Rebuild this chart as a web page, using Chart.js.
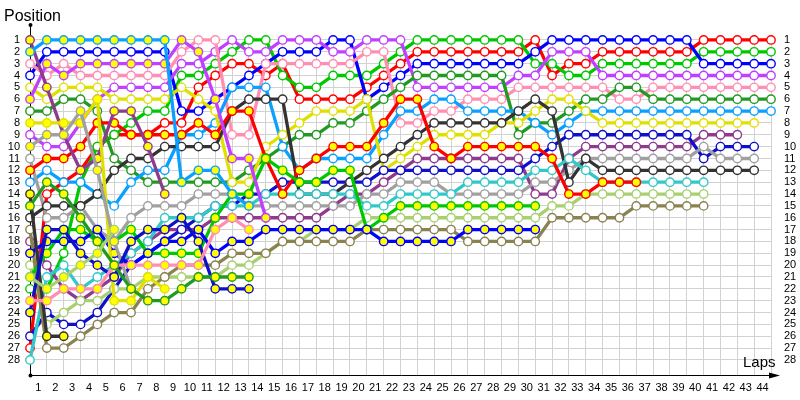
<!DOCTYPE html>
<html>
<head>
<meta charset="utf-8">
<script src="https://cdn.jsdelivr.net/npm/chart.js@4"></script>
<style>
  body { margin: 0; background: #fff; }
  canvas { display: block; }
</style>
</head>
<body>
<canvas id="chartVueltas" width="800" height="400"></canvas>
<script>
// vueltas 0..44 y posiciones 1..28
const laps = [0,1,2,3,4,5,6,7,8,9,10,11,12,13,14,15,16,17,18,19,20,21,22,23,24,25,26,27,28,29,30,31,32,33,34,35,36,37,38,39,40,41,42,43,44];
const positions = [1,2,3,4,5,6,7,8,9,10,11,12,13,14,15,16,17,18,19,20,21,22,23,24,25,26,27,28];

// posicion por vuelta (null = fuera de carrera)
const posRed      = [27,14,13,12,10,9,9,9,8,8,5, 4,3,3,4,3,6,6,6,6,5,4,3, 2,2,2,2,2,2,2,1,4,3,3,2,2,2,2,2,2,1,1,1,1,1];
const posLime     = [22,22,19,13,10,9,8,7,7,4,4, 3,2,1,1,4,5,5,4,4,4,3,2, 1,1,1,1,1,1,1,3,3,4,4,3,3,3,3,3,3,2,2,2,2,2];
const posBlue     = [4,2,2,2,2,2,2,2,2,7,7, 6,5,4,3,2,2,2,1,1,6,5,4, 3,3,3,3,3,3,3,2,1,1,1,1,1,1,1,1,1,3,3,3,3,3];
const posViolet   = [9,10,10,8,6,5,5,5,5,3,3, 2,1,2,2,1,1,1,2,2,1,1,1, 5,5,5,5,5,5,4,4,2,2,2,4,4,4,4,4,4,4,4,4,4,4];
const posPink     = [3,4,3,4,4,4,4,4,4,2,1, 1,9,9,3,3,3,3,3,3,2,2,8, 8,7,7,6,6,6,5,5,5,5,5,5,6,6,5,5,5,5,5,5,5,5];
const posForest   = [7,7,6,6,7,11,12,13,13,13,13, 13,13,12,11,10,9,9,8,8,7,6,5, 4,4,4,4,4,4,9,8,8,7,6,6,5,5,6,6,6,6,6,6,6,6];
const posSky      = [13,12,13,13,14,15,13,12,12,9,9, 8,5,5,5,10,12,11,11,11,11,9,7, 7,6,6,7,7,7,7,8,9,8,7,7,7,7,7,7,7,7,7,7,7,7];
const posYellow   = [5,6,5,5,5,6,6,6,6,5,6, 7,13,13,10,9,8,7,7,7,6,12,11, 10,9,9,9,9,8,8,7,6,6,7,8,8,8,8,8,8,8,8,8,8,null];
const posPlum     = [18,20,22,23,22,21,19,18,17,17,17, 16,16,16,16,16,16,16,15,14,14,13,12, 11,11,11,11,11,11,11,14,14,11,10,10,10,10,10,10,10,9,9,9,null,null];
const posNavy     = [26,24,25,25,24,22,20,19,18,17,16, 15,15,14,14,13,13,13,13,13,13,12,12, 12,12,12,12,12,12,12,11,10,9,9,9,9,9,9,9,9,11,10,10,10,null];
const posGray     = [11,16,16,15,17,18,16,15,15,15,14, 14,14,15,15,15,15,15,15,15,14,14,13, 13,13,14,14,14,14,14,13,13,12,11,11,11,11,11,11,11,10,11,11,11,null];
const posBlack    = [16,15,15,15,14,12,11,11,10,10,10, 10,7,6,6,6,14,14,14,13,12,11,10, 9,8,8,8,8,8,7,6,7,13,11,12,12,12,12,12,12,12,12,12,12,null];
const posCyan     = [28,21,20,22,21,20,19,18,16,16,16, 15,15,15,14,14,14,14,14,14,15,15,14, 14,14,14,13,13,13,13,12,12,11,12,13,13,13,13,13,13,13];
const posLight    = [20,25,24,23,23,22,22,21,21,21,21, 21,20,20,19,18,18,17,17,17,16,16,16, 16,16,16,16,16,16,16,16,15,15,14,14,14,14,14,14,14,14];
const posOlive    = [17,27,27,26,25,24,24,22,21,20,20, 20,19,19,19,18,18,18,18,18,17,17,17, 17,17,17,18,18,18,18,18,16,16,16,16,16,15,15,15,15,15];

const posRedB     = [12,11,11,10,8,8,9,9,9,9,8, 9,7,7,11,14,12,11,10,10,10,8,6, 6,10,11,10,10,10,10,10,11,14,14,13,13,13];
const posLimeB    = [21,19,17,17,18,18,17,19,19,19,19, 16,14,14,11,12,13,13,12,12,17,16,15, 15,15,15,15,15,15,15,15];
const posBlueB    = [19,18,18,18,17,19,20,19,18,18,17, 19,18,18,17,17,17,17,17,17,17,18,18, 18,18,18,17,17,17,17,17];
const posVioletB  = [6,3,4,3,3,3,3,3,3,1,2, 6,11,11,16];
const posPlumB    = [1,5,9,12,11,7,7,10,14];
const posSkyB     = [2,1,1,1,1,1,1,1,1,13,12, 12,14,15];
const posYellowB  = [8,8,8,8,6,23,23,21,22];
const posGrayB    = [10,9,9,7,12,18,22];
const posBlackB   = [14,26,26];
const posNavyB    = [24,17,17,19,20,21,18,17,17,16,18, 22,22,22];
const posPinkB    = [23,23,22,22,22,20,20,20,20,20,20, 17,16,17];
const posForestB  = [15,13,14,16,18,20,22,23,23,22,21, 21,21,21];
const posLightB   = [21,22,21,20,19,17];

const series = [
  { data: posLightB,  color: "#a8d070", fill: "#ffff00" },
  { data: posForestB, color: "#229922", fill: "#ffff00" },
  { data: posPinkB,   color: "#ff8fb2", fill: "#ffff00" },
  { data: posNavyB,   color: "#1010c8", fill: "#ffff00" },
  { data: posBlackB,  color: "#333333", fill: "#ffff00" },
  { data: posGrayB,   color: "#a0a0a0", fill: "#ffff00" },
  { data: posYellowB, color: "#e0e000", fill: "#ffff00" },
  { data: posSkyB,    color: "#0aa0ff", fill: "#ffff00" },
  { data: posPlumB,   color: "#8e3a8e", fill: "#ffff00" },
  { data: posVioletB, color: "#c040ff", fill: "#ffff00" },
  { data: posBlueB,   color: "#0000ff", fill: "#ffff00" },
  { data: posLimeB,   color: "#00c800", fill: "#ffff00" },
  { data: posRedB,    color: "#ff0000", fill: "#ffff00" },
  { data: posOlive,   color: "#8a8250", fill: "#ffffff" },
  { data: posLight,   color: "#a8d070", fill: "#ffffff" },
  { data: posCyan,    color: "#33c8c8", fill: "#ffffff" },
  { data: posBlack,   color: "#333333", fill: "#ffffff" },
  { data: posGray,    color: "#a0a0a0", fill: "#ffffff" },
  { data: posNavy,    color: "#1010c8", fill: "#ffffff" },
  { data: posPlum,    color: "#8e3a8e", fill: "#ffffff" },
  { data: posYellow,  color: "#e0e000", fill: "#ffffff" },
  { data: posSky,     color: "#0aa0ff", fill: "#ffffff" },
  { data: posForest,  color: "#229922", fill: "#ffffff" },
  { data: posPink,    color: "#ff8fb2", fill: "#ffffff" },
  { data: posViolet,  color: "#c040ff", fill: "#ffffff" },
  { data: posBlue,    color: "#0000ff", fill: "#ffffff" },
  { data: posLime,    color: "#00c800", fill: "#ffffff" },
  { data: posRed,     color: "#ff0000", fill: "#ffffff" }
];

const yMin = 0.75, yMax = 29.27;
const tickFont = { family: "Liberation Sans", size: 11 };

// ticks del eje x: rejilla en cada vuelta, etiqueta en la mitad
const xTicks = [];
laps.forEach(l => { if (l > 0) { xTicks.push(l - 0.5); xTicks.push(l); } });

// ejes, flechas y textos
const marco = {
    id: "marco",
    beforeDatasetsDraw(chart) {
        const { ctx, chartArea: a } = chart;
        ctx.save();
        ctx.strokeStyle = "#000";
        ctx.fillStyle = "#000";
        ctx.lineWidth = 1;
        ctx.beginPath();
        ctx.moveTo(a.left + 0.5, 25);
        ctx.lineTo(a.left + 0.5, a.bottom + 0.5);
        ctx.lineTo(a.right + 2, a.bottom + 0.5);
        ctx.stroke();
        ctx.beginPath();
        ctx.moveTo(a.right + 9, a.bottom + 0.5);
        ctx.lineTo(a.right - 2, a.bottom - 2.5);
        ctx.lineTo(a.right - 2, a.bottom + 3.5);
        ctx.closePath();
        ctx.fill();
        ctx.beginPath();
        ctx.arc(a.left + 0.5, 25, 2, 0, Math.PI * 2);
        ctx.arc(a.left + 0.5, a.bottom + 0.5, 2, 0, Math.PI * 2);
        ctx.fill();
        ctx.restore();
    },
    afterDraw(chart) {
        const ctx = chart.ctx;
        ctx.save();
        ctx.fillStyle = "#000";
        ctx.textBaseline = "alphabetic";
        ctx.font = "16px 'Liberation Sans'";
        ctx.fillText("Position", 4, 21);
        ctx.font = "15px 'Liberation Sans'";
        ctx.fillText("Laps", 743, 367);
        ctx.restore();
    }
};

new Chart(document.getElementById("chartVueltas"), {
    type: "line",
    data: {
        datasets: series.map(s => ({
            data: s.data.map((p, i) => p == null ? null : { x: laps[i], y: p }).filter(d => d),
            borderColor: s.color,
            borderWidth: 3.3,
            tension: 0,
            pointRadius: 4.2,
            pointBorderWidth: 1.4,
            pointBorderColor: s.color,
            pointBackgroundColor: s.fill,
            clip: false
        }))
    },
    options: {
        responsive: false,
        animation: false,
        events: [],
        layout: { padding: { top: 37, left: 0, right: 0, bottom: 0 } },
        plugins: { legend: { display: false }, tooltip: { enabled: false } },
        scales: {
            x: {
                type: "linear", min: 0, max: 44, position: "bottom",
                afterBuildTicks: s => { s.ticks = xTicks.map(v => ({ value: v })); },
                afterFit: s => { s.height = 25; },
                grid: { color: c => Number.isInteger(c.tick.value) ? "#d2d2d2" : "rgba(0,0,0,0)", drawTicks: false },
                border: { display: false },
                ticks: {
                    autoSkip: false, maxRotation: 0, padding: 6, color: "#000", font: tickFont,
                    callback: v => Number.isInteger(v) ? "" : String(v + 0.5)
                }
            },
            y: {
                type: "linear", reverse: true, min: yMin, max: yMax, position: "left",
                afterBuildTicks: s => { s.ticks = positions.map(v => ({ value: v })); },
                afterFit: s => { s.width = 30; },
                grid: { color: "#d2d2d2", drawTicks: false },
                border: { display: false },
                ticks: { autoSkip: false, padding: 10, color: "#000", font: tickFont }
            },
            y2: {
                type: "linear", reverse: true, min: yMin, max: yMax, position: "right",
                afterBuildTicks: s => { s.ticks = positions.map(v => ({ value: v })); },
                afterFit: s => { s.width = 29; },
                grid: { display: false },
                border: { display: false },
                ticks: { autoSkip: false, padding: 5, color: "#000", font: tickFont }
            }
        }
    },
    plugins: [marco]
});
</script>
</body>
</html>
